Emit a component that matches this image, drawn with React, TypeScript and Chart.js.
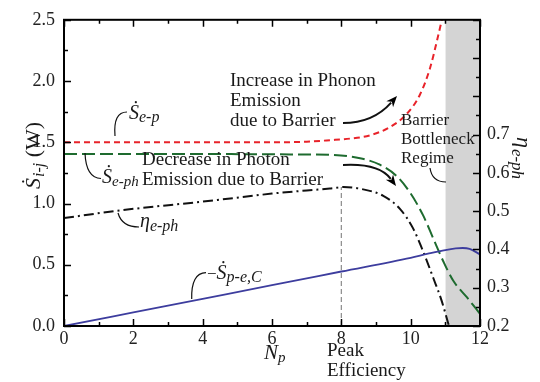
import { useEffect, useRef } from "react";
import { Chart, registerables } from "chart.js";
Chart.register(...registerables);

// S_e-p (left axis, W)
const SEP_X = [0, 2, 4, 6, 7, 7.67, 8.25, 8.83, 9.4, 9.88, 10.27, 10.56, 10.75, 10.9];
const SEP_Y = [1.5, 1.5, 1.5, 1.5, 1.505, 1.517, 1.53, 1.557, 1.624, 1.73, 1.89, 2.107, 2.318, 2.5];
// S_e-ph (left axis, W)
const SEPH_X = [0, 2, 4, 6, 7, 7.67, 8.54, 9.11, 9.6, 9.98, 10.36, 10.65, 10.94, 11.23, 11.62, 12];
const SEPH_Y = [1.405, 1.405, 1.404, 1.402, 1.4, 1.397, 1.37, 1.317, 1.223, 1.09, 0.903, 0.716, 0.529, 0.369, 0.235, 0.1];
// eta_e-ph (right axis)
const ETA_X = [0, 1.62, 4, 5.08, 6, 7, 7.67, 8.06, 8.63, 9.21, 9.69, 10.07, 10.36, 10.65, 10.89, 11.08, 11.12];
const ETA_Y = [0.482, 0.502, 0.525, 0.536, 0.546, 0.554, 0.559, 0.563, 0.557, 0.54, 0.506, 0.455, 0.395, 0.326, 0.267, 0.208, 0.195];
// -S_p-e,C (left axis, W)
const SPEC_X = [0, 2, 4, 6, 8, 10, 10.5, 11, 11.3, 11.5, 11.7, 12];
const SPEC_Y = [0, 0.111, 0.222, 0.333, 0.445, 0.557, 0.59, 0.62, 0.633, 0.637, 0.63, 0.585];
// peak efficiency marker
const PEAK_X = [8, 8];
const PEAK_Y = [0, 1.135];
// barrier bottleneck regime
const REGIME_X = [11, 12];
const REGIME_Y = [2.5, 2.5];

// tick marks
const X_TICKS = [0, 1, 2, 3, 4, 5, 6, 7, 8, 9, 10, 11, 12];
const Y_TICKS = [0, 0.25, 0.5, 0.75, 1, 1.25, 1.5, 1.75, 2, 2.25, 2.5];
const Y2_TICKS = [0.2, 0.25, 0.3, 0.35, 0.4, 0.45, 0.5, 0.55, 0.6, 0.65, 0.7, 0.75, 0.8, 0.85, 0.9, 0.95, 1.0];

const FONT = '"Liberation Serif", "Times New Roman", serif';

function pts(xs: number[], ys: number[]) {
  return xs.map((x, i) => ({ x, y: ys[i] }));
}

type Part = { t: string; style?: string; size?: number; dy?: number; gap?: number };
function rich(ctx: CanvasRenderingContext2D, x: number, y: number, parts: Part[], size = 19) {
  let cx = x;
  for (const p of parts) {
    cx += p.gap ?? 0;
    ctx.font = `${p.style ?? "normal"} ${p.size ?? size}px ${FONT}`;
    ctx.fillText(p.t, cx, y + (p.dy ?? 0));
    cx += ctx.measureText(p.t).width;
  }
}

function curve(ctx: CanvasRenderingContext2D, x0: number, y0: number, cx: number, cy: number, x1: number, y1: number) {
  ctx.beginPath();
  ctx.moveTo(x0, y0);
  ctx.quadraticCurveTo(cx, cy, x1, y1);
  ctx.stroke();
}

function arrow(ctx: CanvasRenderingContext2D, x0: number, y0: number, cx: number, cy: number, x1: number, y1: number) {
  const a = Math.atan2(y1 - cy, x1 - cx);
  const L = 11, W = 4.5;
  const bx = x1 - Math.cos(a) * L * 0.8, by = y1 - Math.sin(a) * L * 0.8;
  curve(ctx, x0, y0, cx, cy, bx, by);
  ctx.beginPath();
  ctx.moveTo(x1, y1);
  ctx.lineTo(x1 - Math.cos(a) * L - Math.sin(a) * W, y1 - Math.sin(a) * L + Math.cos(a) * W);
  ctx.lineTo(x1 - Math.cos(a) * L * 0.7, y1 - Math.sin(a) * L * 0.7);
  ctx.lineTo(x1 - Math.cos(a) * L + Math.sin(a) * W, y1 - Math.sin(a) * L - Math.cos(a) * W);
  ctx.closePath();
  ctx.fill();
}

const bgPlugin = {
  id: "bg",
  beforeDraw(chart: any) {
    const ctx = chart.ctx;
    ctx.save();
    ctx.fillStyle = "#fff";
    ctx.fillRect(0, 0, chart.width, chart.height);
    ctx.restore();
  },
};

const decoPlugin = {
  id: "deco",
  afterDraw(chart: any) {
    const ctx: CanvasRenderingContext2D = chart.ctx;
    const { left, right, top, bottom } = chart.chartArea;
    const { x, y, y2 } = chart.scales;
    ctx.save();
    ctx.strokeStyle = "#000";
    ctx.lineWidth = 1.5;
    ctx.beginPath();
    for (const v of X_TICKS) {
      const px = Math.round(x.getPixelForValue(v)) + 0.5;
      const len = v % 2 === 0 ? 7 : 4;
      ctx.moveTo(px, bottom);
      ctx.lineTo(px, bottom - len);
      ctx.moveTo(px, top);
      ctx.lineTo(px, top + len);
    }
    Y_TICKS.forEach((v, i) => {
      const py = Math.round(y.getPixelForValue(v)) + 0.5;
      const len = i % 2 === 0 ? 7 : 4;
      ctx.moveTo(left, py);
      ctx.lineTo(left + len, py);
    });
    Y2_TICKS.forEach((v, i) => {
      const py = Math.round(y2.getPixelForValue(v)) + 0.5;
      const len = i % 2 === 0 ? 7 : 4;
      ctx.moveTo(right, py);
      ctx.lineTo(right - len, py);
    });
    ctx.stroke();
    ctx.lineWidth = 2;
    ctx.strokeRect(left, top, right - left, bottom - top);

    // text annotations
    ctx.fillStyle = "#1a1a1a";
    ctx.textBaseline = "alphabetic";
    ctx.textAlign = "left";
    rich(ctx, 230, 86, [{ t: "Increase in Phonon" }]);
    rich(ctx, 230, 106, [{ t: "Emission" }]);
    rich(ctx, 230, 126, [{ t: "due to Barrier" }]);
    rich(ctx, 142, 165, [{ t: "Decrease in Photon" }]);
    rich(ctx, 142, 185, [{ t: "Emission due to Barrier" }]);
    rich(ctx, 401, 125, [{ t: "Barrier" }], 17);
    rich(ctx, 401, 144, [{ t: "Bottleneck" }], 17);
    rich(ctx, 401, 163, [{ t: "Regime" }], 17);
    rich(ctx, 327, 356, [{ t: "Peak" }]);
    rich(ctx, 327, 376, [{ t: "Efficiency" }]);
    rich(ctx, 264, 359, [{ t: "N", style: "italic", size: 21 }, { t: "p", style: "italic", size: 15, dy: 3 }]);

    // curve labels
    rich(ctx, 129, 119, [{ t: "Ṡ", style: "italic", size: 20 }, { t: "e-p", style: "italic", size: 16, dy: 3 }]);
    rich(ctx, 102, 183, [{ t: "Ṡ", style: "italic", size: 20 }, { t: "e-ph", style: "italic", size: 15, dy: 3 }]);
    rich(ctx, 140, 227, [{ t: "η", style: "italic", size: 20 }, { t: "e-ph", style: "italic", size: 16, dy: 4 }]);
    rich(ctx, 207, 279, [{ t: "−", size: 17 }, { t: "Ṡ", style: "italic", size: 20 }, { t: "p-e,C", style: "italic", size: 16, dy: 3 }]);

    // axis titles
    ctx.save();
    ctx.translate(40, 189);
    ctx.rotate(-Math.PI / 2);
    rich(ctx, 0, 0, [{ t: "Ṡ", style: "italic", size: 22 }, { t: "i-j", style: "italic", size: 16, dy: 4, gap: 1 }, { t: " (W)", size: 22 }]);
    ctx.restore();
    ctx.save();
    ctx.translate(517, 137);
    ctx.rotate(Math.PI / 2);
    rich(ctx, 0, 0, [{ t: "η", style: "italic", size: 22 }, { t: "e-ph", style: "italic", size: 17, dy: 5, gap: 1 }]);
    ctx.restore();

    // leaders
    ctx.strokeStyle = "#111";
    ctx.lineWidth = 1.2;
    curve(ctx, 115, 136, 113, 112, 127, 112);
    curve(ctx, 85, 153, 86, 178, 101, 178.5);
    curve(ctx, 118, 213, 122, 227, 139, 227);
    curve(ctx, 191.7, 299, 191, 273, 206, 272.7);
    curve(ctx, 430, 168, 432, 182, 446, 182);

    // arrows
    ctx.fillStyle = "#000";
    ctx.lineWidth = 2;
    arrow(ctx, 343, 123, 373, 123, 397, 96);
    arrow(ctx, 343, 165, 379, 163, 396, 186);
    ctx.restore();
  },
};

export default function App() {
  const ref = useRef<HTMLCanvasElement | null>(null);
  useEffect(() => {
    if (!ref.current) return;
    const tickFont = { family: FONT, size: 18 };
    const line = (xs: number[], ys: number[], color: string, dash: number[], axis: string, width = 2) => ({
      data: pts(xs, ys),
      borderColor: color,
      borderWidth: width,
      borderDash: dash,
      pointRadius: 0,
      showLine: true,
      fill: false,
      cubicInterpolationMode: "monotone" as const,
      yAxisID: axis,
      order: 1,
    });
    const chart = new Chart(ref.current, {
      type: "scatter",
      data: {
        datasets: [
          {
            data: pts(REGIME_X, REGIME_Y),
            borderWidth: 0,
            borderColor: "rgba(0,0,0,0)",
            backgroundColor: "#d4d4d4",
            pointRadius: 0,
            showLine: true,
            fill: "origin",
            yAxisID: "y",
            order: 10,
          } as any,
          {
            data: pts(PEAK_X, PEAK_Y),
            borderColor: "#8a8a8a",
            borderWidth: 1.2,
            borderDash: [5, 3],
            pointRadius: 0,
            showLine: true,
            fill: false,
            tension: 0,
            yAxisID: "y",
            order: 5,
          } as any,
          line(SPEC_X, SPEC_Y, "#3d3d9e", [], "y", 1.8),
          line(SEP_X, SEP_Y, "#e8232a", [6, 4], "y"),
          line(SEPH_X, SEPH_Y, "#1e6b2f", [13, 5], "y"),
          line(ETA_X, ETA_Y, "#111111", [10, 4, 2, 4], "y2"),
        ],
      },
      options: {
        animation: false,
        responsive: false,
        devicePixelRatio: 1,
        layout: { padding: { top: 14, left: 0, right: 0, bottom: 0 } },
        plugins: { legend: { display: false }, tooltip: { enabled: false } },
        scales: {
          x: {
            type: "linear",
            min: 0,
            max: 12,
            ticks: { stepSize: 2, font: tickFont, color: "#222", padding: 2, maxRotation: 0 },
            grid: { display: false, drawTicks: false },
            border: { display: false },
            afterFit: (s: any) => {
              s.height = 56;
            },
          },
          y: {
            position: "left",
            min: 0,
            max: 2.5,
            ticks: { stepSize: 0.5, font: tickFont, color: "#222", padding: 9, callback: (v: any) => Number(v).toFixed(1) },
            grid: { display: false, drawTicks: false },
            border: { display: false },
            afterFit: (s: any) => {
              s.width = 64;
            },
          },
          y2: {
            position: "right",
            min: 0.2,
            max: 1.0,
            ticks: {
              stepSize: 0.1,
              font: tickFont,
              color: "#222",
              padding: 7,
              callback: (v: any) => {
                const r = Math.round(Number(v) * 10) / 10;
                return r <= 0.7 ? r.toFixed(1) : "";
              },
            },
            grid: { display: false, drawTicks: false },
            border: { display: false },
            afterFit: (s: any) => {
              s.width = 60;
            },
          },
        },
      } as any,
      plugins: [bgPlugin, decoPlugin],
    });
    return () => chart.destroy();
  }, []);
  return (
    <div style={{ position: "absolute", left: 0, top: 0, width: 540, height: 382 }}>
      <canvas ref={ref} width={540} height={382} style={{ display: "block" }} />
    </div>
  );
}
